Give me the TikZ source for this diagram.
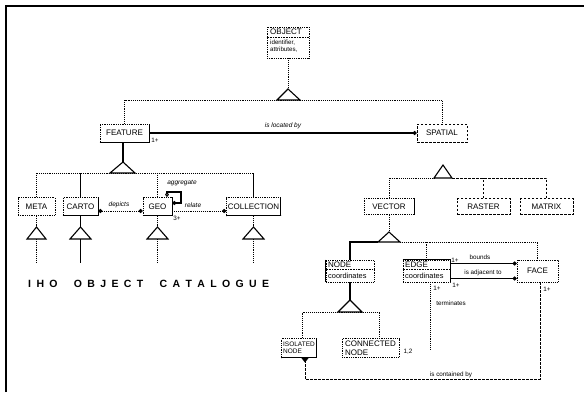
\documentclass[tikz,border=0pt]{standalone}
\usepackage{fontspec}
\setmainfont{Liberation Sans}
\usetikzlibrary{arrows.meta}
\begin{document}
\begin{tikzpicture}[x=1pt,y=-1pt,
  every node/.style={font=\fontsize{8}{8.5}\selectfont, inner sep=0pt},
  box/.style={draw, densely dotted, line width=0.8pt, minimum height=18},
  dbox/.style={draw, dash pattern=on 2.5pt off 1.5pt, line width=0.8pt, minimum height=16},
  sline/.style={line width=1.1pt},
  dline/.style={densely dotted, line width=0.9pt},
  dsh/.style={dash pattern=on 2.5pt off 1.5pt, line width=0.9pt},
  lab/.style={font=\fontsize{6.5}{7}\selectfont\itshape},
  rlab/.style={font=\fontsize{6.3}{7}\selectfont},
  gen/.style={line width=1.1pt, line join=miter},
  dotend/.style={-{Circle[length=4pt]}},
]
\useasboundingbox (0,0) rectangle (584,392);
% frame
\coordinate (fa) at (6,392); \coordinate (fb) at (6,6); \coordinate (fc) at (584,6);
\draw[line width=1.3pt] (fa) -- (fb) -- (fc);

% ---------------- OBJECT
\node[box, minimum width=42, minimum height=31] (obj) at (288,42.5) {};
\node[anchor=west] (objt) at (270,32) {OBJECT};
\draw[densely dotted, line width=0.6pt] (obj.west |- 0,37.5) -- (obj.east |- 0,37.5);
\node[anchor=north west, align=left, font=\fontsize{6.2}{7}\selectfont] (obja) at (270,39.5) {identifier,\\attributes,};
\coordinate (t0) at (288,89);
\coordinate (t0b) at (288,100);
\draw[dline] (obj.south) -- (t0);
\draw[gen] (277,100) -- (t0) -- (300,100) -- cycle;

% ---------------- FEATURE / SPATIAL
\node[box, minimum width=49] (feature) at (124.5,133) {FEATURE};
\draw[sline] (feature.south west) -- (feature.south east) -- (feature.north east);
\node[dbox, minimum width=50, minimum height=18] (spatial) at (442,133) {SPATIAL};
\draw[dline] (feature.north) -- (feature.north |- t0b) -- (spatial.north |- t0b) -- (spatial.north);
\draw[sline, dotend] (feature.east) -- (spatial.west)
  node[lab, pos=0.5, above=4pt] (loc) {is located by};
\node[rlab] (f1) at (155,140) {1+};

% ---------------- feature subtypes
\coordinate (ft) at (123,162);
\draw[sline] (feature.south -| ft) -- (ft);
\draw[gen] (110,173) -- (ft) -- (135,173) -- cycle;

\node[box, minimum width=37] (meta) at (36.5,206.5) {META};
\node[box, minimum width=35] (carto) at (80.5,206.5) {CARTO};
\draw[sline] (carto.south west) -- (carto.south east) -- (carto.north east);
\node[box, minimum width=29] (geo) at (157.5,206.5) {GEO};
\draw[sline] (geo.south west) -- (geo.south east) -- (geo.north east);
\node[box, minimum width=54] (coll) at (253.5,206.5) {COLLECTION};
\draw[sline] (coll.south west) -- (coll.south east) -- (coll.north east);

\draw[dline] (meta.north) -- (meta.north |- 0,173) -- (coll.north |- 0,173);
\draw[sline] (carto.north) -- (carto.north |- 0,173);
\draw[dline] (geo.north) -- (geo.north |- 0,173);
\draw[sline] (coll.north) -- (coll.north |- 0,173);

% associations
\draw[dline, {Circle[length=4pt]}-{Circle[length=4pt]}] (carto.east |- 0,211) -- (geo.west |- 0,211);
\node[lab] (dep) at (119,205) {depicts};
\draw[dline, dotend] (geo.east |- 0,211) -- (coll.west |- 0,211);
\node[lab] (rel) at (193,205) {relate};
\node[rlab] (g3) at (177,218) {3+};
\draw[sline, {Diamond[open,length=5pt,width=4pt]}-{Circle[length=4pt]}] (geo.north -| 167,0) -- (167,192) -- (181,192) -- (181,203) -- (geo.east |- 0,203);
\node[lab] (agg) at (182,183) {aggregate};

% triangles below row
\coordinate (ma) at (36.5,227); \coordinate (mb) at (36.5,239); \coordinate (mc) at (36.5,263);
\draw[dline] (meta.south) -- (ma);
\draw[gen] (27,239) -- (ma) -- (46,239) -- cycle;
\draw[dline] (mb) -- (mc);
\coordinate (ca) at (80.5,227); \coordinate (cb) at (80.5,239); \coordinate (cc) at (80.5,263);
\draw[sline] (carto.south) -- (ca);
\draw[gen] (70,239) -- (ca) -- (91,239) -- cycle;
\draw[sline] (cb) -- (cc);
\coordinate (ga) at (157.5,227); \coordinate (gb) at (157.5,239); \coordinate (gc) at (157.5,263);
\draw[dline] (geo.south) -- (ga);
\draw[gen] (147,239) -- (ga) -- (168,239) -- cycle;
\draw[dline] (gb) -- (gc);
\coordinate (ka) at (253.5,227); \coordinate (kb) at (253.5,239); \coordinate (kc) at (253.5,263);
\draw[dline] (coll.south) -- (ka);
\draw[gen] (243,239) -- (ka) -- (264,239) -- cycle;
\draw[dline] (kb) -- (kc);

\node[anchor=west, font=\fontsize{10.5}{12}\selectfont\bfseries] (iho) at (28,284)
 {\hbox to 241pt{I\hfill H\hfill O\hfill\hfill\hfill O\hfill B\hfill J\hfill E\hfill C\hfill T\hfill\hfill\hfill C\hfill A\hfill T\hfill A\hfill L\hfill O\hfill G\hfill U\hfill E}};

% ---------------- spatial subtypes
\coordinate (sa) at (443,165);
\draw[gen] (434,178) -- (sa) -- (452,178) -- cycle;
\node[box, minimum width=50, minimum height=16] (vector) at (389,206.5) {VECTOR};
\draw[sline] (vector.north east) -- (vector.south east);
\node[dbox, minimum width=53] (raster) at (483.5,206.5) {RASTER};
\node[dbox, minimum width=53] (matrix) at (546.5,206.5) {MATRIX};
\draw[dline] (vector.north) -- (vector.north |- 0,178) -- (434,178);
\draw[dsh] (452,178) -- (matrix.north |- 0,178) -- (matrix.north);
\draw[dsh] (raster.north) -- (raster.north |- 0,178);

% vector subtypes
\coordinate (va) at (389,232);
\draw[dline] (vector.south) -- (va);
\draw[gen] (378,242) -- (va) -- (400,242) -- cycle;

\node[box, minimum width=48, minimum height=22] (node) at (350,271) {};
\draw[sline] (node.north west) -- (node.south west);
\draw[densely dotted, line width=0.6pt] (node.west |- 0,269.5) -- (node.east |- 0,269.5);
\node[anchor=west] (nodet) at (328,265) {NODE};
\node[anchor=west, font=\fontsize{7.4}{8}\selectfont] (nodec) at (328,276) {coordinates};

\node[box, minimum width=47, minimum height=22] (edge) at (426.5,271) {};
\draw[sline] (edge.north west) -- (edge.north east) -- (edge.south east);
\draw[densely dotted, line width=0.6pt] (edge.west |- 0,269.5) -- (edge.east |- 0,269.5);
\node[anchor=west] (edget) at (405,265) {EDGE};
\node[anchor=west, font=\fontsize{7.4}{8}\selectfont] (edgec) at (405,276) {coordinates};

\node[box, minimum width=41, minimum height=22] (face) at (537.5,271) {FACE};

\draw[sline] (node.north) -- (node.north |- 0,242) -- (378,242);
\draw[dline] (400,242) -- (face.north |- 0,242) -- (face.north);
\draw[dline] (edge.north) -- (edge.north |- 0,242);

\draw[sline, dotend] (edge.east |- 0,263.5) -- (face.west |- 0,263.5);
\draw[sline, dotend] (edge.east |- 0,278.5) -- (face.west |- 0,278.5);
\node[rlab] (bnd) at (480,257) {bounds};
\node[rlab] (adj) at (483,273) {is adjacent to};
\node[rlab] (e1) at (455,260) {1+};
\node[rlab] (e2) at (456,285) {1+};
\node[rlab] (e3) at (437,288) {1+};
\node[rlab] (fc1) at (547,289) {1+};

% node subtypes
\coordinate (na) at (350,300);
\draw[sline] (node.south) -- (na);
\draw[gen] (338,312) -- (na) -- (362,312) -- cycle;
\node[box, minimum width=35, minimum height=19, align=left, font=\fontsize{6.5}{7.2}\selectfont] (iso) at (299,348) {ISOLATED\\NODE};
\draw[sline] (iso.south west) -- (iso.south east) -- (iso.north east);
\node[box, minimum width=57, minimum height=19, align=left] (conn) at (370.5,348) {CONNECTED\\NODE};
\draw[dline] (iso.north -| 302,0) -- (302,312) -- (379,312) -- (conn.north -| 379,0);
\node[rlab] (c12) at (408,352) {1,2};

% terminates
\coordinate (tend) at (430,350);
\draw[dline] (edge.south -| tend) -- (tend);
\node[rlab] (term) at (451,303) {terminates};

% is contained by
\coordinate (c1) at (540,379); \coordinate (c2) at (305,379);
\draw[dsh] (face.south -| c1) -- (c1) -- (c2) -- (iso.south -| c2);
\fill (301,357.5) -- (309,357.5) -- (305,362.5) -- cycle;
\node[rlab] (cont) at (451,375) {is contained by};
\end{tikzpicture}
\end{document}
